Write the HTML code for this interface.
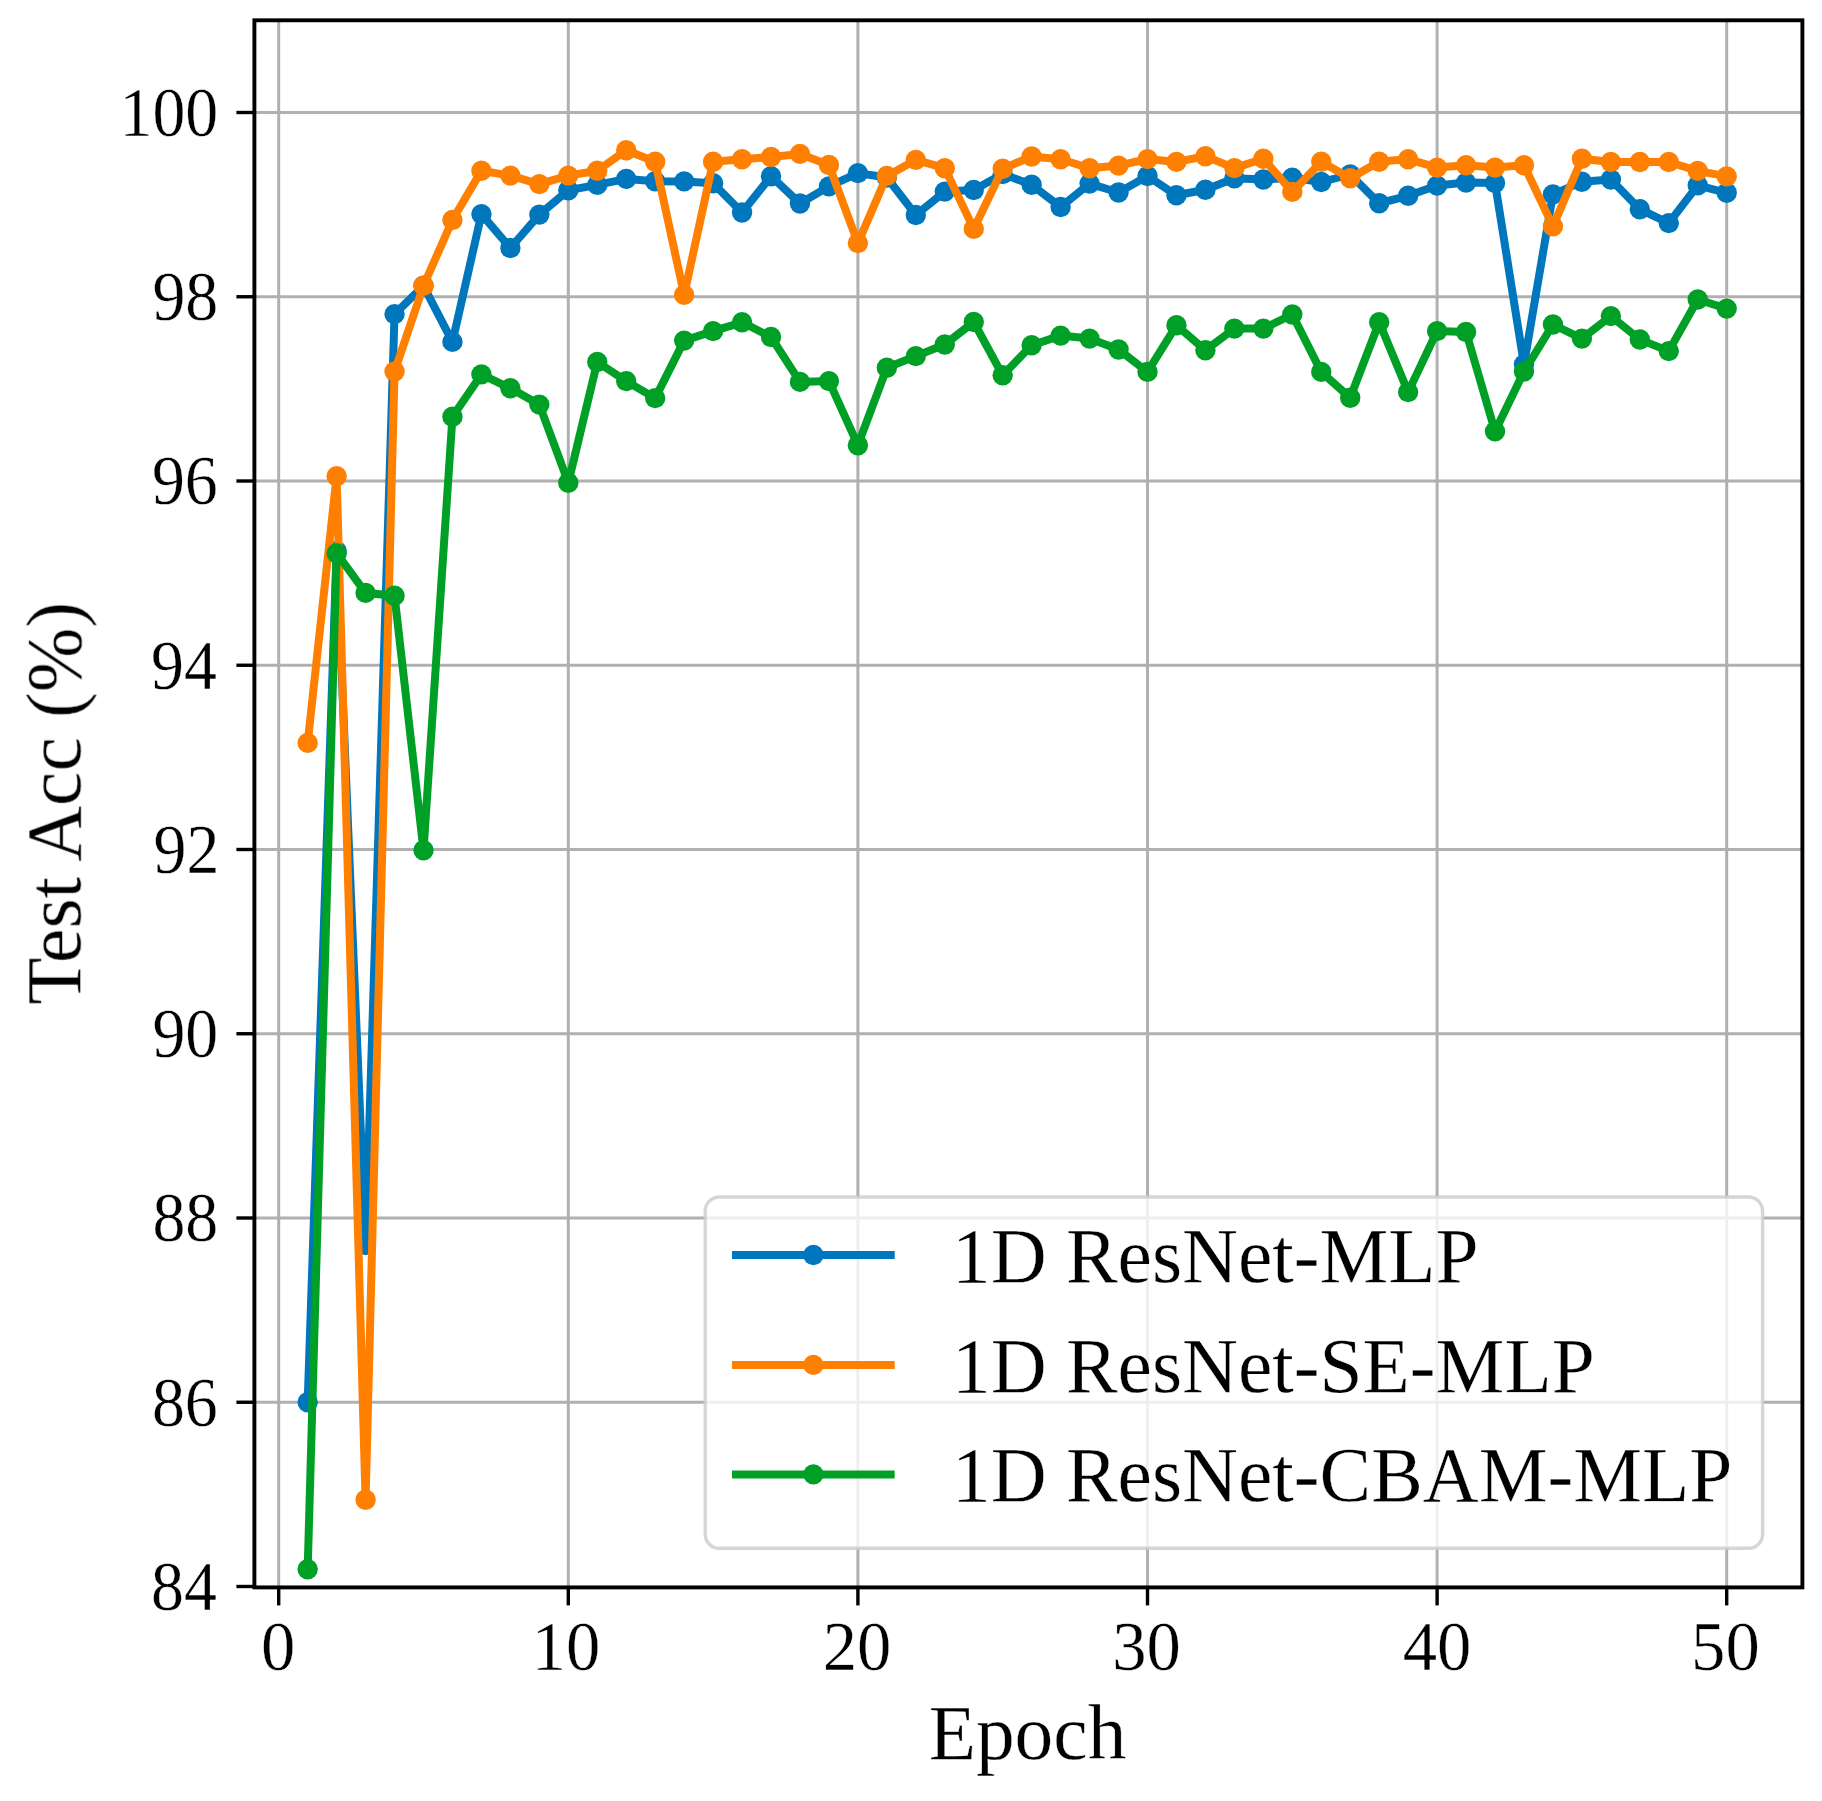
<!DOCTYPE html>
<html lang="en"><head><meta charset="utf-8"><title>Test Acc vs Epoch</title>
<style>html,body{margin:0;padding:0;background:#fff}body{width:1822px;height:1801px;overflow:hidden}svg{display:block}text{font-family:"Liberation Serif",serif;fill:#000;stroke:#fff;stroke-width:0.35px;stroke-linejoin:round}</style>
</head><body>
<svg width="1822" height="1801" viewBox="0 0 1822 1801">
<rect x="0" y="0" width="1822" height="1801" fill="#ffffff"/>
<defs><filter id="soft" x="0" y="0" width="1822" height="1801" filterUnits="userSpaceOnUse"><feGaussianBlur stdDeviation="0.5"/></filter></defs>
<g filter="url(#soft)">
<g stroke="#b0b0b0" stroke-width="3.0" fill="none">
<line x1="278.70" y1="20.3" x2="278.70" y2="1587.4"/>
<line x1="568.30" y1="20.3" x2="568.30" y2="1587.4"/>
<line x1="857.90" y1="20.3" x2="857.90" y2="1587.4"/>
<line x1="1147.50" y1="20.3" x2="1147.50" y2="1587.4"/>
<line x1="1437.10" y1="20.3" x2="1437.10" y2="1587.4"/>
<line x1="1726.70" y1="20.3" x2="1726.70" y2="1587.4"/>
<line x1="254.4" y1="1402.25" x2="1802.4" y2="1402.25"/>
<line x1="254.4" y1="1218.00" x2="1802.4" y2="1218.00"/>
<line x1="254.4" y1="1033.75" x2="1802.4" y2="1033.75"/>
<line x1="254.4" y1="849.50" x2="1802.4" y2="849.50"/>
<line x1="254.4" y1="665.25" x2="1802.4" y2="665.25"/>
<line x1="254.4" y1="481.00" x2="1802.4" y2="481.00"/>
<line x1="254.4" y1="296.75" x2="1802.4" y2="296.75"/>
<line x1="254.4" y1="112.50" x2="1802.4" y2="112.50"/>
</g>
<clipPath id="ax"><rect x="254.4" y="20.3" width="1548.0" height="1567.1000000000001"/></clipPath>
<g clip-path="url(#ax)">
<g fill="#0077BD" stroke="none">
<polyline points="307.66,1402.30 336.62,551.00 365.58,1245.00 394.54,314.10 423.50,285.80 452.46,341.90 481.42,214.10 510.38,248.00 539.34,214.60 568.30,190.20 597.26,184.90 626.22,178.90 655.18,181.30 684.14,181.40 713.10,183.30 742.06,212.50 771.02,176.20 799.98,203.50 828.94,186.40 857.90,173.10 886.86,177.50 915.82,215.00 944.78,191.60 973.74,190.00 1002.70,174.10 1031.66,184.80 1060.62,207.00 1089.58,183.60 1118.54,192.50 1147.50,176.00 1176.46,195.30 1205.42,189.70 1234.38,178.30 1263.34,179.50 1292.30,177.70 1321.26,182.00 1350.22,174.50 1379.18,203.30 1408.14,195.80 1437.10,185.60 1466.06,182.60 1495.02,183.00 1523.98,364.50 1552.94,194.40 1581.90,181.80 1610.86,179.50 1639.82,209.20 1668.78,223.10 1697.74,185.40 1726.70,192.80" fill="none" stroke="#0077BD" stroke-width="8.0" stroke-linejoin="round" stroke-linecap="butt"/>
<circle cx="307.66" cy="1402.30" r="10.2"/>
<circle cx="336.62" cy="551.00" r="10.2"/>
<circle cx="365.58" cy="1245.00" r="10.2"/>
<circle cx="394.54" cy="314.10" r="10.2"/>
<circle cx="423.50" cy="285.80" r="10.2"/>
<circle cx="452.46" cy="341.90" r="10.2"/>
<circle cx="481.42" cy="214.10" r="10.2"/>
<circle cx="510.38" cy="248.00" r="10.2"/>
<circle cx="539.34" cy="214.60" r="10.2"/>
<circle cx="568.30" cy="190.20" r="10.2"/>
<circle cx="597.26" cy="184.90" r="10.2"/>
<circle cx="626.22" cy="178.90" r="10.2"/>
<circle cx="655.18" cy="181.30" r="10.2"/>
<circle cx="684.14" cy="181.40" r="10.2"/>
<circle cx="713.10" cy="183.30" r="10.2"/>
<circle cx="742.06" cy="212.50" r="10.2"/>
<circle cx="771.02" cy="176.20" r="10.2"/>
<circle cx="799.98" cy="203.50" r="10.2"/>
<circle cx="828.94" cy="186.40" r="10.2"/>
<circle cx="857.90" cy="173.10" r="10.2"/>
<circle cx="886.86" cy="177.50" r="10.2"/>
<circle cx="915.82" cy="215.00" r="10.2"/>
<circle cx="944.78" cy="191.60" r="10.2"/>
<circle cx="973.74" cy="190.00" r="10.2"/>
<circle cx="1002.70" cy="174.10" r="10.2"/>
<circle cx="1031.66" cy="184.80" r="10.2"/>
<circle cx="1060.62" cy="207.00" r="10.2"/>
<circle cx="1089.58" cy="183.60" r="10.2"/>
<circle cx="1118.54" cy="192.50" r="10.2"/>
<circle cx="1147.50" cy="176.00" r="10.2"/>
<circle cx="1176.46" cy="195.30" r="10.2"/>
<circle cx="1205.42" cy="189.70" r="10.2"/>
<circle cx="1234.38" cy="178.30" r="10.2"/>
<circle cx="1263.34" cy="179.50" r="10.2"/>
<circle cx="1292.30" cy="177.70" r="10.2"/>
<circle cx="1321.26" cy="182.00" r="10.2"/>
<circle cx="1350.22" cy="174.50" r="10.2"/>
<circle cx="1379.18" cy="203.30" r="10.2"/>
<circle cx="1408.14" cy="195.80" r="10.2"/>
<circle cx="1437.10" cy="185.60" r="10.2"/>
<circle cx="1466.06" cy="182.60" r="10.2"/>
<circle cx="1495.02" cy="183.00" r="10.2"/>
<circle cx="1523.98" cy="364.50" r="10.2"/>
<circle cx="1552.94" cy="194.40" r="10.2"/>
<circle cx="1581.90" cy="181.80" r="10.2"/>
<circle cx="1610.86" cy="179.50" r="10.2"/>
<circle cx="1639.82" cy="209.20" r="10.2"/>
<circle cx="1668.78" cy="223.10" r="10.2"/>
<circle cx="1697.74" cy="185.40" r="10.2"/>
<circle cx="1726.70" cy="192.80" r="10.2"/>
</g>
<g fill="#FF7F03" stroke="none">
<polyline points="307.66,742.90 336.62,476.30 365.58,1499.80 394.54,371.50 423.50,285.80 452.46,220.00 481.42,170.80 510.38,175.60 539.34,184.10 568.30,175.60 597.26,170.80 626.22,150.30 655.18,161.70 684.14,294.90 713.10,161.70 742.06,159.30 771.02,157.00 799.98,153.90 828.94,165.00 857.90,243.10 886.86,175.90 915.82,159.90 944.78,168.20 973.74,228.90 1002.70,168.70 1031.66,156.50 1060.62,159.20 1089.58,168.20 1118.54,165.60 1147.50,159.10 1176.46,161.90 1205.42,156.30 1234.38,168.10 1263.34,158.70 1292.30,191.90 1321.26,161.70 1350.22,178.30 1379.18,161.70 1408.14,159.20 1437.10,167.60 1466.06,165.30 1495.02,167.60 1523.98,165.30 1552.94,226.40 1581.90,158.70 1610.86,162.00 1639.82,162.00 1668.78,162.00 1697.74,170.90 1726.70,176.40" fill="none" stroke="#FF7F03" stroke-width="8.0" stroke-linejoin="round" stroke-linecap="butt"/>
<circle cx="307.66" cy="742.90" r="10.2"/>
<circle cx="336.62" cy="476.30" r="10.2"/>
<circle cx="365.58" cy="1499.80" r="10.2"/>
<circle cx="394.54" cy="371.50" r="10.2"/>
<circle cx="423.50" cy="285.80" r="10.2"/>
<circle cx="452.46" cy="220.00" r="10.2"/>
<circle cx="481.42" cy="170.80" r="10.2"/>
<circle cx="510.38" cy="175.60" r="10.2"/>
<circle cx="539.34" cy="184.10" r="10.2"/>
<circle cx="568.30" cy="175.60" r="10.2"/>
<circle cx="597.26" cy="170.80" r="10.2"/>
<circle cx="626.22" cy="150.30" r="10.2"/>
<circle cx="655.18" cy="161.70" r="10.2"/>
<circle cx="684.14" cy="294.90" r="10.2"/>
<circle cx="713.10" cy="161.70" r="10.2"/>
<circle cx="742.06" cy="159.30" r="10.2"/>
<circle cx="771.02" cy="157.00" r="10.2"/>
<circle cx="799.98" cy="153.90" r="10.2"/>
<circle cx="828.94" cy="165.00" r="10.2"/>
<circle cx="857.90" cy="243.10" r="10.2"/>
<circle cx="886.86" cy="175.90" r="10.2"/>
<circle cx="915.82" cy="159.90" r="10.2"/>
<circle cx="944.78" cy="168.20" r="10.2"/>
<circle cx="973.74" cy="228.90" r="10.2"/>
<circle cx="1002.70" cy="168.70" r="10.2"/>
<circle cx="1031.66" cy="156.50" r="10.2"/>
<circle cx="1060.62" cy="159.20" r="10.2"/>
<circle cx="1089.58" cy="168.20" r="10.2"/>
<circle cx="1118.54" cy="165.60" r="10.2"/>
<circle cx="1147.50" cy="159.10" r="10.2"/>
<circle cx="1176.46" cy="161.90" r="10.2"/>
<circle cx="1205.42" cy="156.30" r="10.2"/>
<circle cx="1234.38" cy="168.10" r="10.2"/>
<circle cx="1263.34" cy="158.70" r="10.2"/>
<circle cx="1292.30" cy="191.90" r="10.2"/>
<circle cx="1321.26" cy="161.70" r="10.2"/>
<circle cx="1350.22" cy="178.30" r="10.2"/>
<circle cx="1379.18" cy="161.70" r="10.2"/>
<circle cx="1408.14" cy="159.20" r="10.2"/>
<circle cx="1437.10" cy="167.60" r="10.2"/>
<circle cx="1466.06" cy="165.30" r="10.2"/>
<circle cx="1495.02" cy="167.60" r="10.2"/>
<circle cx="1523.98" cy="165.30" r="10.2"/>
<circle cx="1552.94" cy="226.40" r="10.2"/>
<circle cx="1581.90" cy="158.70" r="10.2"/>
<circle cx="1610.86" cy="162.00" r="10.2"/>
<circle cx="1639.82" cy="162.00" r="10.2"/>
<circle cx="1668.78" cy="162.00" r="10.2"/>
<circle cx="1697.74" cy="170.90" r="10.2"/>
<circle cx="1726.70" cy="176.40" r="10.2"/>
</g>
<g fill="#06A028" stroke="none">
<polyline points="307.66,1569.20 336.62,553.20 365.58,592.90 394.54,595.70 423.50,850.30 452.46,416.80 481.42,374.40 510.38,388.30 539.34,404.60 568.30,482.70 597.26,362.00 626.22,381.10 655.18,398.10 684.14,340.60 713.10,331.10 742.06,322.30 771.02,337.00 799.98,381.90 828.94,381.10 857.90,445.20 886.86,367.80 915.82,356.10 944.78,344.50 973.74,322.00 1002.70,375.30 1031.66,345.30 1060.62,335.60 1089.58,338.60 1118.54,349.50 1147.50,371.90 1176.46,325.30 1205.42,350.30 1234.38,328.60 1263.34,328.60 1292.30,314.50 1321.26,371.90 1350.22,397.80 1379.18,322.30 1408.14,392.10 1437.10,331.10 1466.06,332.00 1495.02,431.40 1523.98,371.60 1552.94,324.50 1581.90,338.60 1610.86,316.10 1639.82,339.50 1668.78,351.10 1697.74,299.50 1726.70,308.60" fill="none" stroke="#06A028" stroke-width="8.0" stroke-linejoin="round" stroke-linecap="butt"/>
<circle cx="307.66" cy="1569.20" r="10.2"/>
<circle cx="336.62" cy="553.20" r="10.2"/>
<circle cx="365.58" cy="592.90" r="10.2"/>
<circle cx="394.54" cy="595.70" r="10.2"/>
<circle cx="423.50" cy="850.30" r="10.2"/>
<circle cx="452.46" cy="416.80" r="10.2"/>
<circle cx="481.42" cy="374.40" r="10.2"/>
<circle cx="510.38" cy="388.30" r="10.2"/>
<circle cx="539.34" cy="404.60" r="10.2"/>
<circle cx="568.30" cy="482.70" r="10.2"/>
<circle cx="597.26" cy="362.00" r="10.2"/>
<circle cx="626.22" cy="381.10" r="10.2"/>
<circle cx="655.18" cy="398.10" r="10.2"/>
<circle cx="684.14" cy="340.60" r="10.2"/>
<circle cx="713.10" cy="331.10" r="10.2"/>
<circle cx="742.06" cy="322.30" r="10.2"/>
<circle cx="771.02" cy="337.00" r="10.2"/>
<circle cx="799.98" cy="381.90" r="10.2"/>
<circle cx="828.94" cy="381.10" r="10.2"/>
<circle cx="857.90" cy="445.20" r="10.2"/>
<circle cx="886.86" cy="367.80" r="10.2"/>
<circle cx="915.82" cy="356.10" r="10.2"/>
<circle cx="944.78" cy="344.50" r="10.2"/>
<circle cx="973.74" cy="322.00" r="10.2"/>
<circle cx="1002.70" cy="375.30" r="10.2"/>
<circle cx="1031.66" cy="345.30" r="10.2"/>
<circle cx="1060.62" cy="335.60" r="10.2"/>
<circle cx="1089.58" cy="338.60" r="10.2"/>
<circle cx="1118.54" cy="349.50" r="10.2"/>
<circle cx="1147.50" cy="371.90" r="10.2"/>
<circle cx="1176.46" cy="325.30" r="10.2"/>
<circle cx="1205.42" cy="350.30" r="10.2"/>
<circle cx="1234.38" cy="328.60" r="10.2"/>
<circle cx="1263.34" cy="328.60" r="10.2"/>
<circle cx="1292.30" cy="314.50" r="10.2"/>
<circle cx="1321.26" cy="371.90" r="10.2"/>
<circle cx="1350.22" cy="397.80" r="10.2"/>
<circle cx="1379.18" cy="322.30" r="10.2"/>
<circle cx="1408.14" cy="392.10" r="10.2"/>
<circle cx="1437.10" cy="331.10" r="10.2"/>
<circle cx="1466.06" cy="332.00" r="10.2"/>
<circle cx="1495.02" cy="431.40" r="10.2"/>
<circle cx="1523.98" cy="371.60" r="10.2"/>
<circle cx="1552.94" cy="324.50" r="10.2"/>
<circle cx="1581.90" cy="338.60" r="10.2"/>
<circle cx="1610.86" cy="316.10" r="10.2"/>
<circle cx="1639.82" cy="339.50" r="10.2"/>
<circle cx="1668.78" cy="351.10" r="10.2"/>
<circle cx="1697.74" cy="299.50" r="10.2"/>
<circle cx="1726.70" cy="308.60" r="10.2"/>
</g>
</g>
<g stroke="#000" stroke-width="3.4">
<line x1="278.70" y1="1587.4" x2="278.70" y2="1605.4"/>
<line x1="568.30" y1="1587.4" x2="568.30" y2="1605.4"/>
<line x1="857.90" y1="1587.4" x2="857.90" y2="1605.4"/>
<line x1="1147.50" y1="1587.4" x2="1147.50" y2="1605.4"/>
<line x1="1437.10" y1="1587.4" x2="1437.10" y2="1605.4"/>
<line x1="1726.70" y1="1587.4" x2="1726.70" y2="1605.4"/>
<line x1="254.4" y1="1586.50" x2="236.4" y2="1586.50"/>
<line x1="254.4" y1="1402.25" x2="236.4" y2="1402.25"/>
<line x1="254.4" y1="1218.00" x2="236.4" y2="1218.00"/>
<line x1="254.4" y1="1033.75" x2="236.4" y2="1033.75"/>
<line x1="254.4" y1="849.50" x2="236.4" y2="849.50"/>
<line x1="254.4" y1="665.25" x2="236.4" y2="665.25"/>
<line x1="254.4" y1="481.00" x2="236.4" y2="481.00"/>
<line x1="254.4" y1="296.75" x2="236.4" y2="296.75"/>
<line x1="254.4" y1="112.50" x2="236.4" y2="112.50"/>
</g>
<rect x="254.4" y="20.3" width="1548.0" height="1567.1000000000001" fill="none" stroke="#000" stroke-width="3.9" stroke-linejoin="miter"/>
<g font-size="70px">
<text x="260.95" y="1670.00" textLength="34.30" lengthAdjust="spacingAndGlyphs">0</text>
<text x="531.68" y="1670.00" textLength="68.60" lengthAdjust="spacingAndGlyphs">10</text>
<text x="822.74" y="1670.00" textLength="68.60" lengthAdjust="spacingAndGlyphs">20</text>
<text x="1112.26" y="1670.00" textLength="68.60" lengthAdjust="spacingAndGlyphs">30</text>
<text x="1402.80" y="1670.00" textLength="68.60" lengthAdjust="spacingAndGlyphs">40</text>
<text x="1691.11" y="1670.00" textLength="68.60" lengthAdjust="spacingAndGlyphs">50</text>
<text x="150.99" y="1609.80" textLength="65.80" lengthAdjust="spacingAndGlyphs">84</text>
<text x="151.97" y="1425.55" textLength="65.80" lengthAdjust="spacingAndGlyphs">86</text>
<text x="152.47" y="1241.30" textLength="65.80" lengthAdjust="spacingAndGlyphs">88</text>
<text x="152.47" y="1057.05" textLength="65.80" lengthAdjust="spacingAndGlyphs">90</text>
<text x="153.62" y="872.80" textLength="65.80" lengthAdjust="spacingAndGlyphs">92</text>
<text x="150.99" y="688.55" textLength="65.80" lengthAdjust="spacingAndGlyphs">94</text>
<text x="151.97" y="504.30" textLength="65.80" lengthAdjust="spacingAndGlyphs">96</text>
<text x="152.47" y="320.05" textLength="65.80" lengthAdjust="spacingAndGlyphs">98</text>
<text x="119.57" y="135.80" textLength="98.70" lengthAdjust="spacingAndGlyphs">100</text>
</g>
<text x="928.64" y="1759.2" font-size="77.4px">Epoch</text>
<text transform="translate(80.2,1004.72) rotate(-90)" font-size="77.4px">Test Acc (%)</text>
<rect x="705.2" y="1197" width="1057.4" height="351.3" rx="14" ry="14" fill="#ffffff" fill-opacity="0.8" stroke="#cccccc" stroke-opacity="0.8" stroke-width="3.4"/>
<line x1="732" y1="1255.0" x2="894.7" y2="1255.0" stroke="#0077BD" stroke-width="8.0"/>
<circle cx="813.4" cy="1255.0" r="10.2" fill="#0077BD"/>
<text x="952" y="1282.2" font-size="77.4px">1D ResNet-MLP</text>
<line x1="732" y1="1364.9" x2="894.7" y2="1364.9" stroke="#FF7F03" stroke-width="8.0"/>
<circle cx="813.4" cy="1364.9" r="10.2" fill="#FF7F03"/>
<text x="952" y="1391.5" font-size="77.4px">1D ResNet-SE-MLP</text>
<line x1="732" y1="1474.4" x2="894.7" y2="1474.4" stroke="#06A028" stroke-width="8.0"/>
<circle cx="813.4" cy="1474.4" r="10.2" fill="#06A028"/>
<text x="952" y="1500.8" font-size="77.4px">1D ResNet-CBAM-MLP</text>
</g>
</svg>
</body></html>
